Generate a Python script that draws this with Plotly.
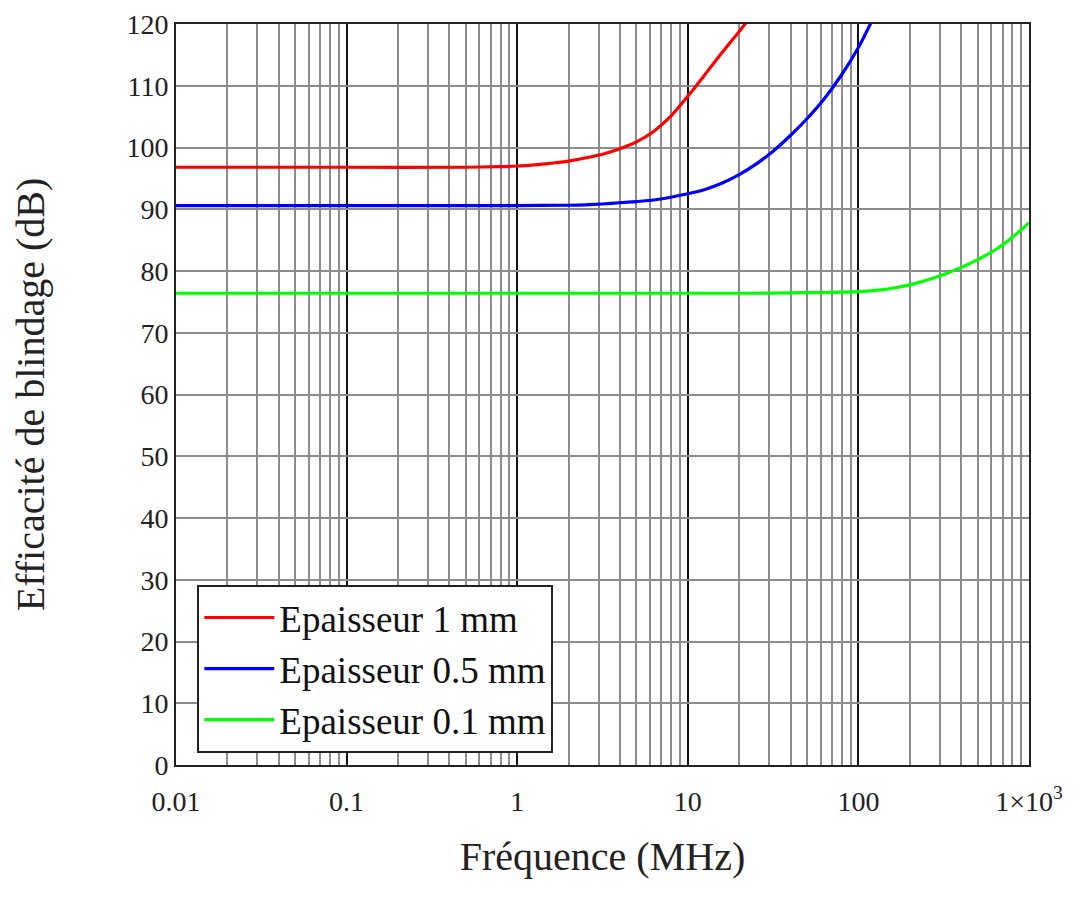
import plotly.graph_objects as go

# Data (frequency in MHz, shielding effectiveness in dB)
freq_1mm = [0.01, 0.1, 0.5, 0.79, 1.0, 1.26, 1.58, 2.0, 2.5, 3.2, 4.0, 5.0, 6.3, 7.9, 10, 12.6, 15.8, 20, 22.4]
se_1mm = [96.8, 96.8, 96.8, 96.9, 97.0, 97.2, 97.45, 97.8, 98.3, 98.95, 99.8, 100.9, 102.6, 105.0, 108.3, 111.8, 115.3, 118.8, 120.5]

freq_05mm = [0.01, 0.1, 1.0, 2.0, 2.5, 3.16, 3.98, 5.01, 6.31, 7.94, 10, 12.6, 15.8, 20, 25.1, 31.6,
             39.8, 50.1, 63.1, 79.4, 100, 117.5, 126]
se_05mm = [90.6, 90.6, 90.6, 90.65, 90.72, 90.85, 91.05, 91.25, 91.5, 91.95, 92.5, 93.2, 94.2, 95.6, 97.3, 99.4,
           101.9, 104.7, 107.9, 111.7, 116.2, 120.0, 121.8]

freq_01mm = [0.01, 0.1, 1.0, 10, 25, 40, 63, 100, 126, 158, 200, 251, 316, 398, 501, 631, 794, 1000]
se_01mm = [76.4, 76.4, 76.4, 76.4, 76.4, 76.45, 76.52, 76.65, 76.85, 77.2, 77.75, 78.5, 79.45, 80.55, 81.85, 83.4, 85.4, 87.8]

names = ["Epaisseur 1 mm", "Epaisseur 0.5 mm", "Epaisseur 0.1 mm"]
colors = ["#ff0000", "#0000ff", "#00ff00"]

x_tickvals = [0.01, 0.1, 1, 10, 100, 1000]
x_ticktext = ["0.01", "0.1", "1", "10", "100", "1×10<sup>3</sup>"]
y_tickvals = list(range(0, 121, 10))

minor_vals = [m * 10 ** k for k in range(-2, 3) for m in range(2, 10)]

FONT = "Liberation Serif"
TXT = "#222222"

fig = go.Figure()
for fx, fy, nm, col in zip([freq_1mm, freq_05mm, freq_01mm],
                           [se_1mm, se_05mm, se_01mm], names, colors):
    fig.add_trace(go.Scatter(x=fx, y=fy, mode="lines", name=nm,
                             line=dict(color=col, width=3.2, shape="spline", smoothing=0.6)))

# page body has an 8px margin: figure is sized/margined so the plot lands where the reference has it
fig.update_layout(
    width=1060, height=900,
    margin=dict(l=168, r=39, t=16, b=143),
    paper_bgcolor="white", plot_bgcolor="white",
    font=dict(family=FONT, color=TXT, size=28),
    showlegend=True,
    legend=dict(x=0.025, y=0.243, xanchor="left", yanchor="top",
                bgcolor="white", bordercolor="#222222", borderwidth=2,
                font=dict(family=FONT, size=37, color="#111111"),
                itemwidth=70, tracegroupgap=0),
)

fig.update_xaxes(
    type="log", range=[-2, 3], automargin=False,
    tickvals=x_tickvals, ticktext=x_ticktext,
    showgrid=True, gridcolor="#111111", gridwidth=1.8,
    minor=dict(tickvals=minor_vals, showgrid=True, gridcolor="#8c8c8c", gridwidth=1.6),
    showline=True, mirror=True, linecolor="#222222", linewidth=2,
    ticks="outside", ticklen=0, ticklabelstandoff=10,
    tickfont=dict(family=FONT, size=28, color=TXT),
    title=dict(text="Fréquence (MHz)", font=dict(family=FONT, size=40, color=TXT), standoff=26),
)

fig.update_yaxes(
    range=[0, 120], tickvals=y_tickvals, automargin=False,
    showgrid=True, gridcolor="#8c8c8c", gridwidth=1.6, zeroline=False,
    showline=True, mirror=True, linecolor="#222222", linewidth=2,
    ticks="outside", ticklen=0, ticklabelstandoff=0,
    tickfont=dict(family=FONT, size=28, color=TXT),
    title=dict(text="Efficacité de blindage (dB)", font=dict(family=FONT, size=40, color=TXT), standoff=70),
)

fig.write_html("out.html")
